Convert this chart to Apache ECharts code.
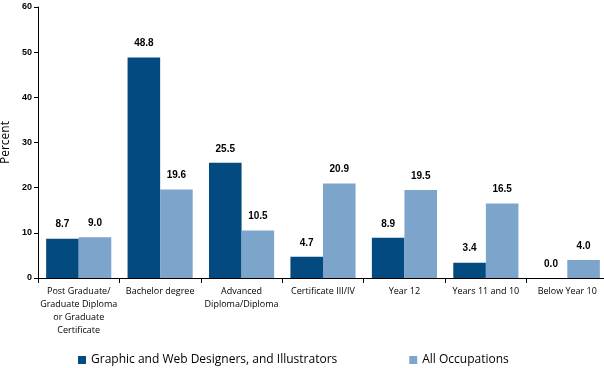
<!DOCTYPE html>
<html><head><meta charset="utf-8">
<script src="https://cdn.jsdelivr.net/npm/echarts@6/dist/echarts.min.js"></script>
<style>html,body{margin:0;padding:0;background:#fff}#c{width:604px;height:368px}</style>
</head><body><div id="c"></div>
<script>
const categories = ["Post Graduate/\nGraduate Diploma\nor Graduate\nCertificate","Bachelor degree","Advanced\nDiploma/Diploma","Certificate III/IV","Year 12","Years 11 and 10","Below Year 10"];
const seriesNames = ["Graphic and Web Designers, and Illustrators","All Occupations"];
const designers = [8.7,48.8,25.5,4.7,8.9,3.4,0.0];
const allOcc = [9.0,19.6,10.5,20.9,19.5,16.5,4.0];
const yTicks = {min:0,max:60,interval:10};
const chart = echarts.init(document.getElementById('c'),null,{renderer:'canvas'});
const font = "'Open Sans', 'DejaVu Sans', sans-serif";
const lbl = {show:true,position:'top',distance:9,fontFamily:"'Liberation Sans', Arial, sans-serif",fontWeight:'bold',fontSize:10,color:'#000',formatter:p=>p.value.toFixed(1)};
chart.setOption({
  animation:false,
  grid:{left:38,width:570,top:7,bottom:90,containLabel:false,outerBoundsMode:'none'},
  legend:{bottom:-3,left:73,width:560,itemGap:72,itemWidth:8,itemHeight:8,icon:'rect',textStyle:{fontFamily:font,fontSize:12,color:'#000'},data:seriesNames},
  xAxis:{type:'category',data:categories,axisLine:{lineStyle:{color:'#000'}},axisTick:{show:true,alignWithLabel:false,length:5,lineStyle:{color:'#000'}},axisLabel:{interval:0,fontFamily:font,fontSize:9,color:'#000',lineHeight:13,margin:7}},
  yAxis:{type:'value',min:yTicks.min,max:yTicks.max,interval:yTicks.interval,name:'Percent',nameLocation:'middle',nameGap:24,nameTextStyle:{fontFamily:font,fontSize:12,color:'#000'},axisLine:{show:true,lineStyle:{color:'#000'}},axisTick:{show:true,length:4,lineStyle:{color:'#000'}},splitLine:{show:false},axisLabel:{fontFamily:"'Liberation Sans', Arial, sans-serif",fontWeight:'bold',fontSize:9,color:'#000',margin:6}},
  series:[
    {name:seriesNames[0],type:'bar',data:designers,itemStyle:{color:'#024A80'},barGap:'0%',barCategoryGap:'20%',label:lbl},
    {name:seriesNames[1],type:'bar',data:allOcc,itemStyle:{color:'#7DA5CB'},label:lbl}
  ]
});
</script></body></html>
